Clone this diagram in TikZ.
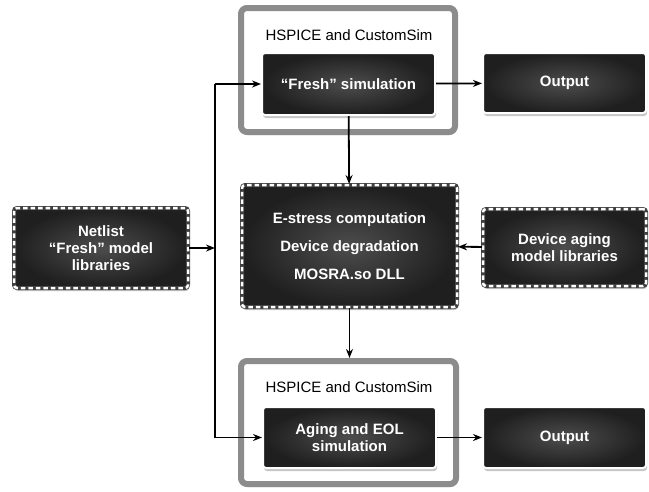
\documentclass[tikz,border=0pt]{standalone}
\usepackage{fontspec}
\setmainfont{Liberation Sans}
\usetikzlibrary{shadows, arrows.meta}

\tikzset{
    darkbox/.style={rounded corners=3pt, inner color=black!70, outer color=black!88,
        draw=white, line width=2pt, text=white, align=center,
        font=\bfseries\fontsize{15}{17}\selectfont,
        drop shadow={opacity=0.45, shadow xshift=1pt, shadow yshift=-3pt}},
    dashbox/.style={darkbox, draw=none,
        postaction={draw=black!75, line width=4pt},
        postaction={draw=white, line width=2.5pt, dash pattern=on 4.5pt off 3pt}},
    simframe/.style={draw=black!45, line width=6pt, fill=white, rounded corners=6pt,
        drop shadow={opacity=0.35, shadow xshift=1pt, shadow yshift=-3pt}},
    flow/.style={-{Stealth[length=9pt, width=7pt]}, line width=1.8pt}
}

\begin{document}
\begin{tikzpicture}[x=1pt, y=-1pt]
    \useasboundingbox (0,0) rectangle (649,491);

    % Simulator frames
    \node[simframe, minimum width=214pt, minimum height=124pt] (frameA) at (348,70) {};
    \node[simframe, minimum width=215pt, minimum height=123pt] (frameB) at (348.5,422.5) {};
    \node[font=\fontsize{15}{17}\selectfont] (hspA) at (349,35) {HSPICE and CustomSim};
    \node[font=\fontsize{15}{17}\selectfont] (hspB) at (349,387) {HSPICE and CustomSim};

    % The boxes
    \node[darkbox, minimum width=173pt, minimum height=62pt] (fresh) at (348.5,84) {``Fresh'' simulation};
    \node[darkbox, minimum width=163pt, minimum height=60pt] (outA) at (564.5,83) {Output};
    \node[dashbox, minimum width=215pt, minimum height=122pt] (stress) at (349.5,246)
        {E-stress computation\\[11pt]Device degradation\\[11pt]MOSRA.so DLL};
    \node[dashbox, minimum width=174pt, minimum height=80pt] (netlist) at (101,248)
        {Netlist\\``Fresh'' model\\libraries};
    \node[dashbox, minimum width=163pt, minimum height=77pt] (aging) at (564.5,247.5)
        {Device aging\\model libraries};
    \node[darkbox, minimum width=173pt, minimum height=61pt] (agsim) at (349.5,437.5)
        {Aging and EOL\\simulation};
    \node[darkbox, minimum width=163pt, minimum height=61pt] (outB) at (564.5,437.5) {Output};

    % Bus points
    \coordinate (busT) at (215,84);
    \coordinate (busM) at (215,248);
    \coordinate (busB) at (215,437.5);

    % Draw the arrows
    \draw[line width=1.8pt] (busT) -- (busB);
    \draw[flow] (netlist) -- (busM);
    \draw[flow] (busT) -- (fresh);
    \draw[flow] (busB) -- (agsim);
    \draw[flow] (fresh) -- (outA);
    \draw[flow] (agsim) -- (outB);
    \draw[flow] (fresh) -- (stress);
    \draw[flow] (stress) -- (frameB.north -| stress.south);
    \draw[flow] (aging) -- (stress);
\end{tikzpicture}
\end{document}
